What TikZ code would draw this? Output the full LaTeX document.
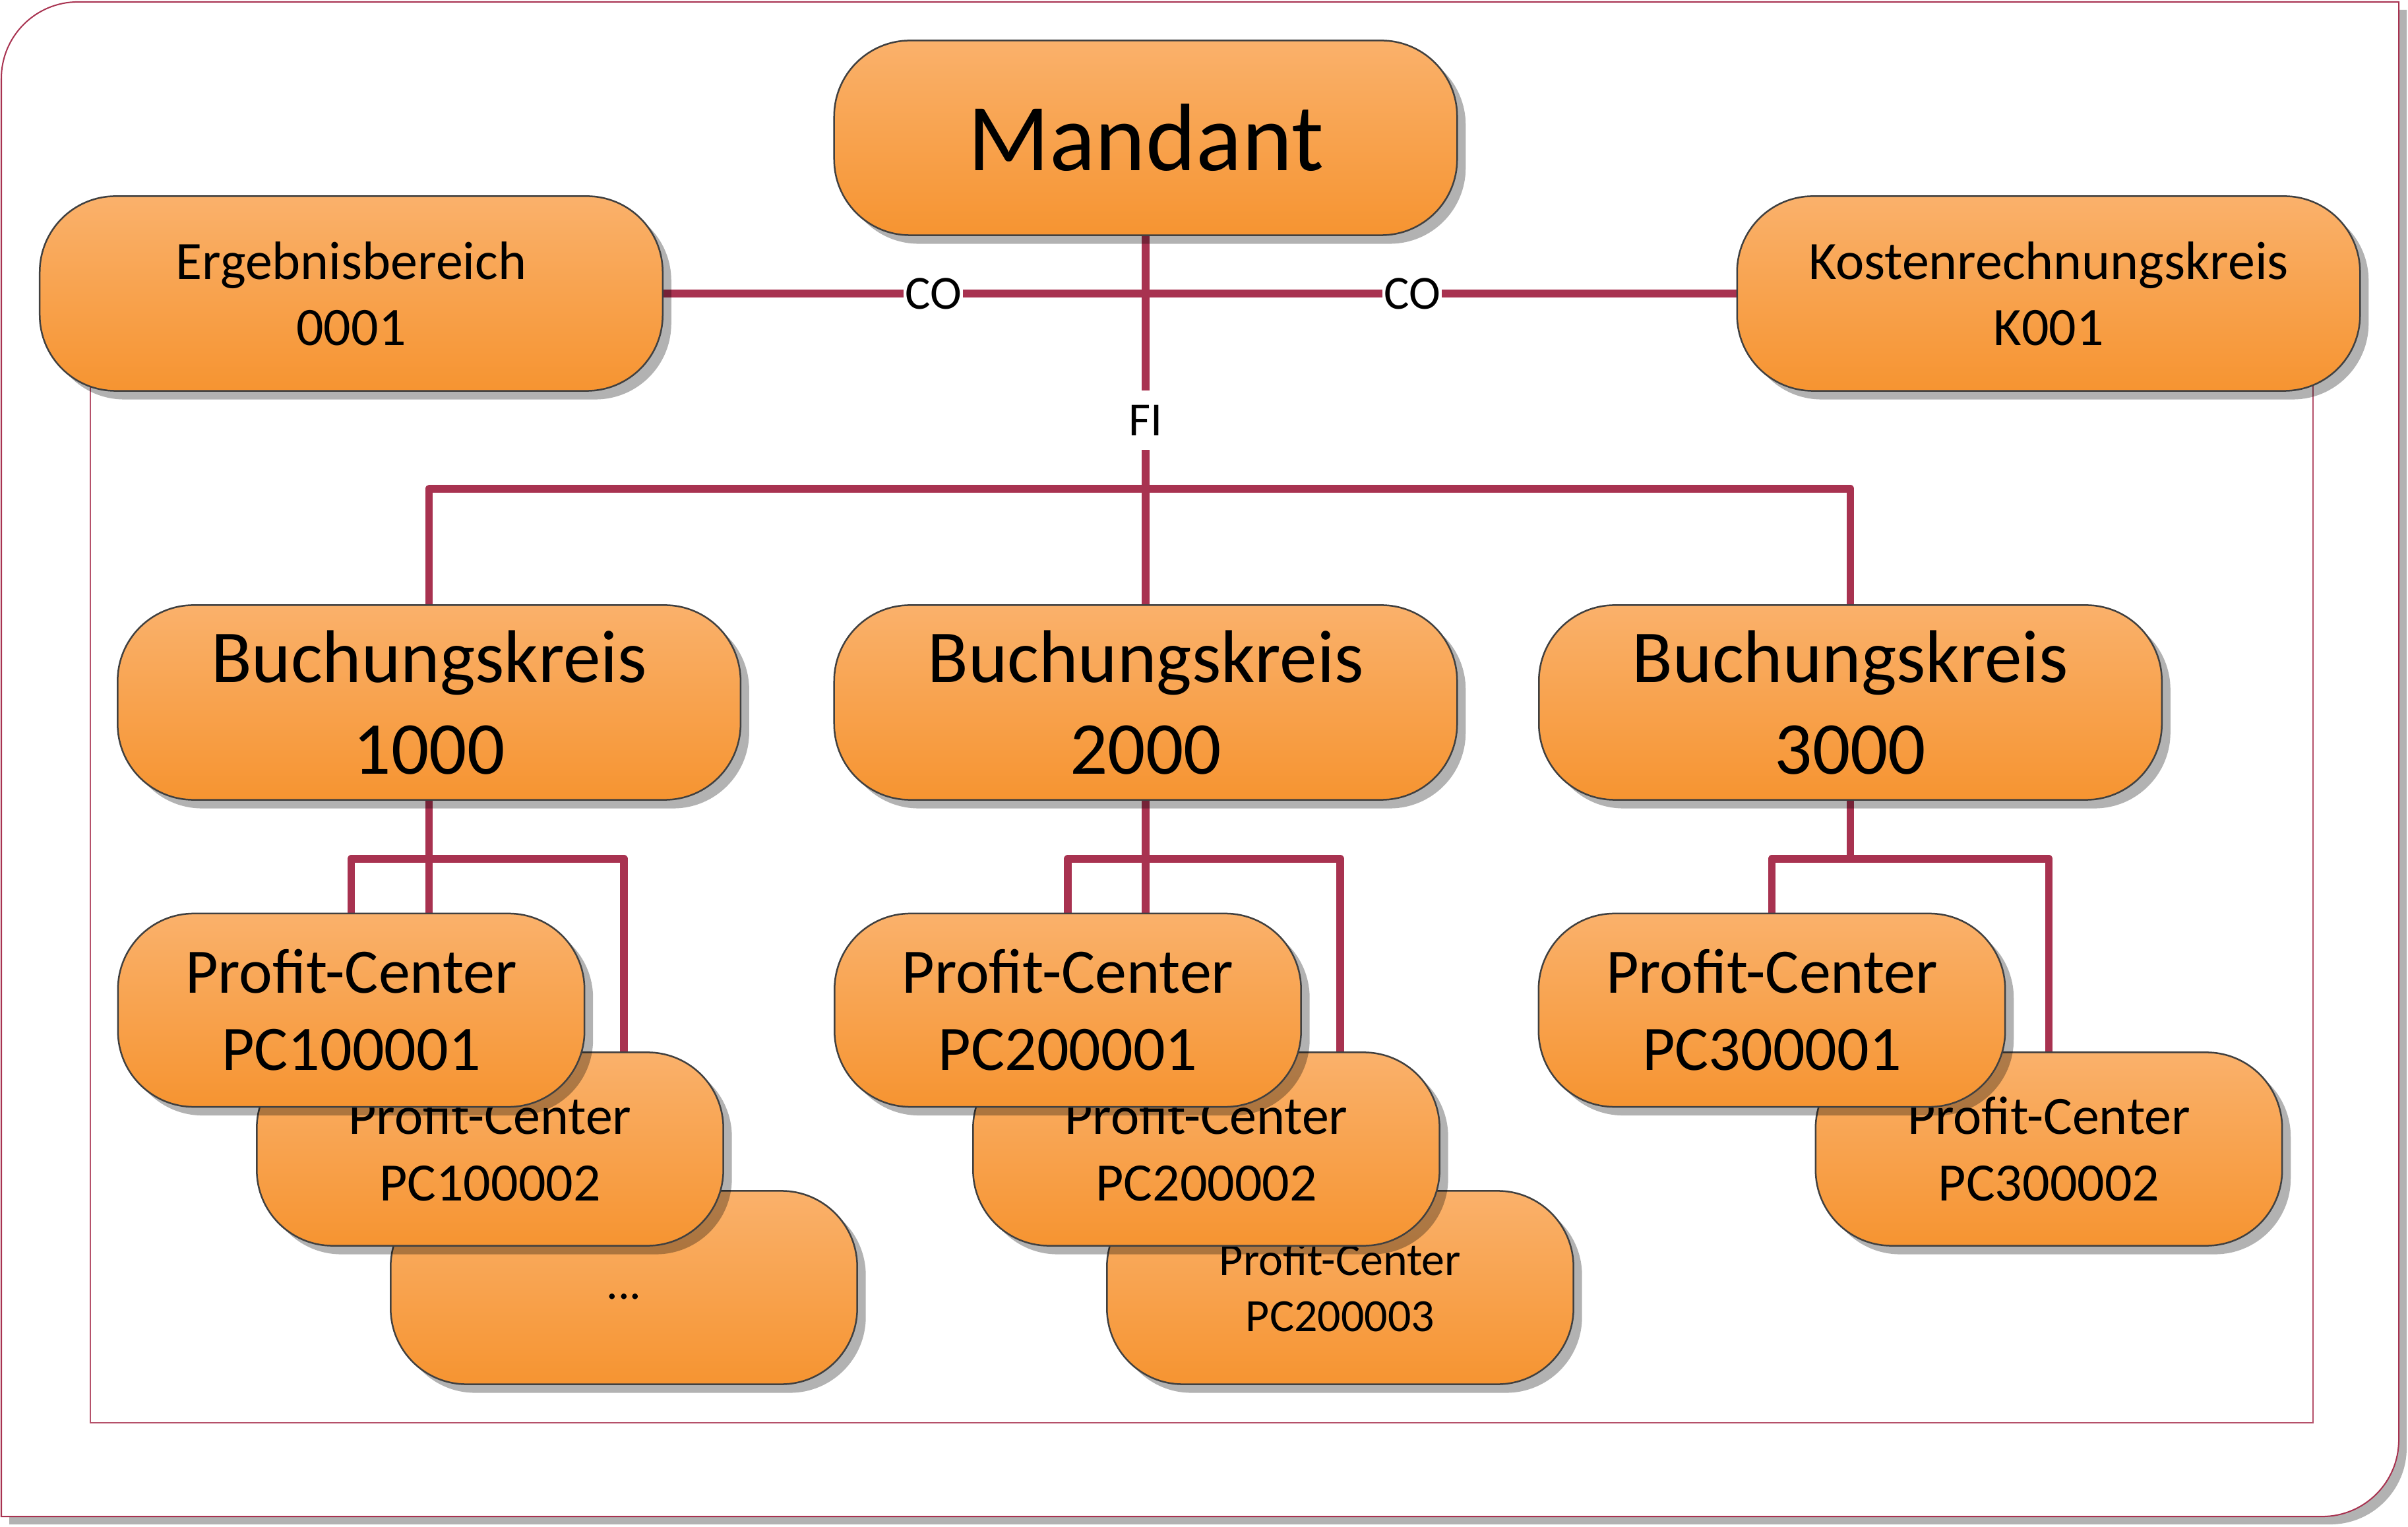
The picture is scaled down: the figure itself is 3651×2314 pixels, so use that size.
\documentclass[tikz,border=0pt]{standalone}
\usepackage{fontspec}
\setmainfont{Carlito}
\usetikzlibrary{shadows,calc}
\definecolor{crim}{RGB}{168,50,80}
\definecolor{otop}{RGB}{250,177,107}
\definecolor{obot}{RGB}{246,148,49}
\definecolor{edgegray}{RGB}{64,64,64}
\pgfdeclarelayer{framelayer}
\pgfdeclarelayer{linelayer}
\pgfsetlayers{framelayer,linelayer,main}
\begin{document}
\begin{tikzpicture}[x=0.01cm, y=0.01cm,
  orgbox/.style={rectangle, rounded corners=1.15cm, draw=edgegray, line width=0.025cm,
    top color=otop, bottom color=obot,
    drop shadow={shadow xshift=0.13cm, shadow yshift=-0.13cm, opacity=0.3, fill=black},
    align=center, inner sep=0pt, text=black},
  bigbox/.style={orgbox, minimum width=9.44cm, minimum height=2.95cm},
  pcbox/.style={orgbox, minimum width=7.07cm, minimum height=2.93cm},
  fmandant/.style={font=\fontsize{41.3pt}{50.4pt}\selectfont},
  fside/.style={font=\fontsize{23.3pt}{28.5pt}\selectfont},
  fbk/.style={font=\fontsize{32.2pt}{39.3pt}\selectfont},
  fpcA/.style={font=\fontsize{27.3pt}{33.3pt}\selectfont},
  fpcB/.style={font=\fontsize{23.3pt}{28.5pt}\selectfont},
  fpcC/.style={font=\fontsize{19.9pt}{24.3pt}\selectfont},
  conn/.style={draw=crim, line width=0.115cm, line cap=round, line join=round},
  lbl/.style={fill=white, inner xsep=0.02cm, inner ysep=0.22cm, text=black,
    font=\fontsize{20.5pt}{25pt}\selectfont}
]
\useasboundingbox (0,0) rectangle (3651,2314);

% ---------- frames ----------
\begin{pgfonlayer}{framelayer}
\path[fill=white, draw=crim, line width=0.02cm,
  drop shadow={shadow xshift=0.12cm, shadow yshift=-0.12cm, opacity=0.3, fill=black}]
  (2,15) -- (2,2195) arc[start angle=180, end angle=90, radius=1.16cm]
  -- (3637,2311) -- (3637,131) arc[start angle=0, end angle=-90, radius=1.16cm] -- cycle;
\draw[crim!85, line width=0.02cm] (137,1869) -- (137,157) -- (3507,157) -- (3507,1869);
\end{pgfonlayer}

% ---------- boxes ----------
\node[bigbox, fmandant] (man) at (1737,2105) {Mandant};
\node[bigbox, fside] (erg) at (532.5,1869) {Ergebnisbereich\\0001};
\node[bigbox, fside] (kos) at (3106,1869) {Kostenrechnungskreis\\K001};

\node[bigbox, fbk] (bk1) at (650.6,1249) {Buchungskreis\\1000};
\node[bigbox, fbk] (bk2) at (1737,1249) {Buchungskreis\\2000};
\node[bigbox, fbk] (bk3) at (2805.5,1249) {Buchungskreis\\3000};

\node[pcbox, fpcC] (pc13) at (946,362) {\strut...};
\node[pcbox, fpcB] (pc12) at (743,572) {Profit-Center\\PC100002};
\node[pcbox, fpcA] (pc11) at (532.5,782.5) {Profit-Center\\PC100001};

\node[pcbox, fpcC] (pc23) at (2032,362) {Profit-Center\\PC200003};
\node[pcbox, fpcB] (pc22) at (1829,572) {Profit-Center\\PC200002};
\node[pcbox, fpcA] (pc21) at (1619,782.5) {Profit-Center\\PC200001};

\node[pcbox, fpcB] (pc32) at (3106.5,572) {Profit-Center\\PC300002};
\node[pcbox, fpcA] (pc31) at (2686.5,782.5) {Profit-Center\\PC300001};

% ---------- connectors ----------
\coordinate (fiy) at (0,1573);
\coordinate (pcy) at (0,1012);
\begin{pgfonlayer}{linelayer}
\draw[conn] (man.south) -- (man.south |- erg.east) -- (erg.east);
\draw[conn] (man.south) -- (man.south |- kos.west) -- (kos.west);
\draw[conn] (man.south) -- (bk2.north);
\draw[conn] (man.south) -- (man.south |- fiy) -| (bk1.north);
\draw[conn] (man.south) -- (man.south |- fiy) -| (bk3.north);

\draw[conn] (bk1.south) -- (bk1.south |- pcy) -| (pc11.north);
\draw[conn] (bk1.south) -- (bk1.south |- pcy) -| (pc13.north);
\draw[conn] (bk1.south) -- (bk1.south |- pc12.north);

\draw[conn] (bk2.south) -- (bk2.south |- pcy) -| (pc21.north);
\draw[conn] (bk2.south) -- (bk2.south |- pcy) -| (pc23.north);
\draw[conn] (bk2.south) -- (bk2.south |- pc22.north);

\draw[conn] (bk3.south) -- (bk3.south |- pcy) -| (pc31.north);
\draw[conn] (bk3.south) -- (bk3.south |- pcy) -| (pc32.north);

\node[lbl] (co1) at (1415,1869) {CO};
\node[lbl] (co2) at (2141,1869) {CO};
\node[lbl] (fi) at (1737,1677) {FI};
\end{pgfonlayer}
\end{tikzpicture}
\end{document}
